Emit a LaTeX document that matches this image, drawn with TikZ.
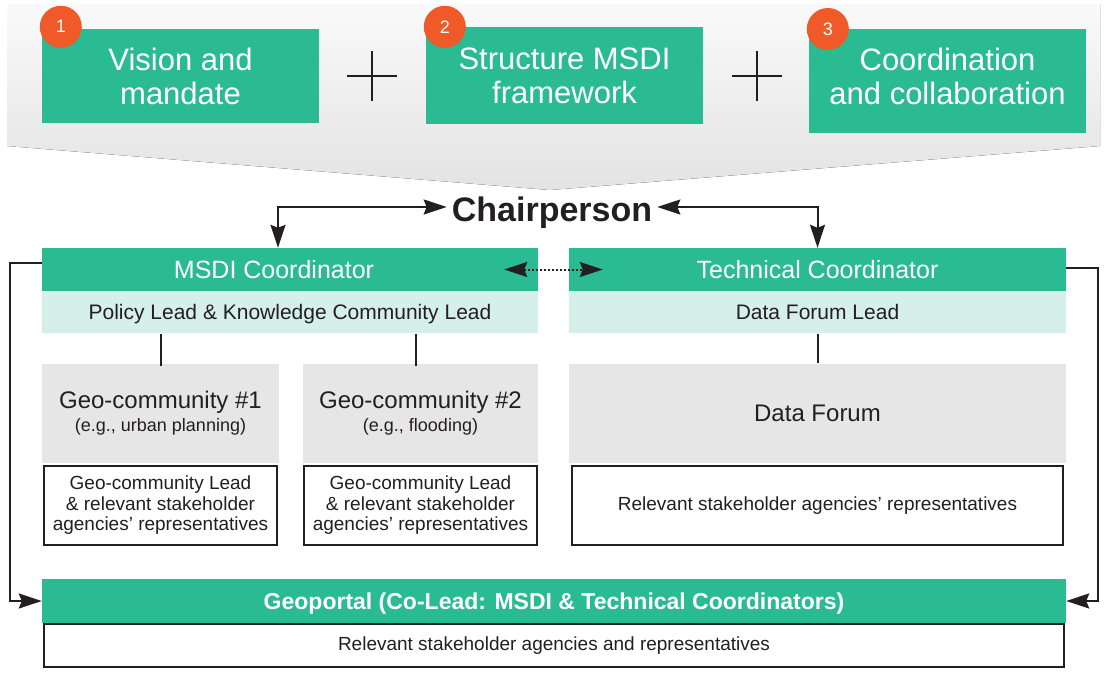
\documentclass[tikz,border=0pt]{standalone}
\usepackage{fontspec}
\setmainfont{Liberation Sans}
\usepackage{tikz}
\usetikzlibrary{positioning,calc,arrows.meta}
\definecolor{msdigreen}{HTML}{2ABB93}
\definecolor{msdilight}{HTML}{D5F0E8}
\definecolor{forumgray}{HTML}{E6E6E6}
\definecolor{badgeorange}{HTML}{F05A28}
\definecolor{inkdark}{HTML}{231F20}
\newcommand{\fsz}[2]{\fontsize{#1}{#2}\selectfont}

\begin{document}
\begin{tikzpicture}[x=1pt, y=-1pt,
        topbox/.style={fill=msdigreen, minimum width=277pt, minimum height=94pt, inner sep=0pt, text=white, align=center, font=\fsz{31}{34}},
        badge/.style={circle, fill=badgeorange, minimum size=42pt, inner sep=0pt, text=white, font=\fsz{18}{18}},
        headbox/.style={fill=msdigreen, minimum height=43pt, inner sep=0pt, text=white, text height=18pt, text depth=0pt, font=\fsz{25}{28}},
        subbox/.style={fill=msdilight, minimum height=42pt, inner sep=0pt, text=inkdark, text height=15pt, text depth=0pt, font=\fsz{21}{24}},
        groupbox/.style={fill=forumgray, minimum height=99pt, inner sep=0pt, text=inkdark, align=center, font=\fsz{24}{23}},
        memberbox/.style={draw=inkdark, line width=2pt, fill=white, minimum height=79pt, inner sep=0pt, text=inkdark, align=center, font=\fsz{19}{20.5}},
        link/.style={draw=inkdark, line width=2pt},
        arrowed/.style={-{Stealth[length=23pt 0 0, width=15pt 0 0, inset=3pt 0 0]}},
        twoway/.style={{Stealth[length=23pt 0 0, width=15pt 0 0, inset=3pt 0 0]}-{Stealth[length=23pt 0 0, width=15pt 0 0, inset=3pt 0 0]}}
    ]
    \useasboundingbox (0,0) rectangle (1107,672);

    % Shaded band behind the three pillars
    \fill[top color=black!2, bottom color=black!11] (7,4) -- (1100,4) -- (1100,146) -- (550,190) -- (7,146) -- cycle;

    % Pillars
    \node[topbox] (vision) at (180.5,76) {Vision and\\mandate};
    \node[topbox, minimum height=97pt] (structure) at (564.5,75.5) {Structure MSDI\\framework};
    \node[topbox, minimum height=104pt, anchor=north] (coordination) at (947.5,29) {};
    \node[text=white, align=center, font=\fsz{31}{34}] (coordinationtext) at (947.5,76) {Coordination\\and collaboration};

    % Numbered badges
    \node[badge] (badgeone) at ($(vision.north west) + (19,-2)$) {1};
    \node[badge] (badgetwo) at ($(structure.north west) + (19,0)$) {2};
    \node[badge] (badgethree) at ($(coordination.north west) + (19,0)$) {3};

    % Plus signs
    \draw[link] (347,76) -- (397,76) (372,51) -- (372,101);
    \draw[link] (732,76) -- (782,76) (757,51) -- (757,101);

    % Chairperson
    \node[font=\bfseries\fsz{34}{34}, text=inkdark, inner xsep=5pt, text height=25pt, text depth=0pt] (chair) at (552,209) {Chairperson};

    % Coordinators
    \node[headbox, minimum width=496pt] (msdi) at (290,269.5) {MSDI Coordinator\hspace*{32pt}};
    \node[subbox, minimum width=496pt, anchor=north] (msdisub) at (msdi.south) {Policy Lead \& Knowledge Community Lead};
    \node[headbox, minimum width=497pt] (tech) at (817.5,269.5) {Technical Coordinator};
    \node[subbox, minimum width=497pt, anchor=north] (techsub) at (tech.south) {Data Forum Lead};

    % Geo-communities
    \node[groupbox, minimum width=237pt] (geoone) at (160.5,413) {Geo-community \#1\\{\fsz{18}{23}(e.g., urban planning)}};
    \node[memberbox, minimum width=233pt, anchor=north] (geoonesub) at (160.5,465) {Geo-community Lead\\\& relevant stakeholder\\agencies’ representatives};
    \node[groupbox, minimum width=235pt] (geotwo) at (420.5,413) {Geo-community \#2\\{\fsz{18}{23}(e.g., flooding)}};
    \node[memberbox, minimum width=233pt, anchor=north] (geotwosub) at (420.5,465) {Geo-community Lead\\\& relevant stakeholder\\agencies’ representatives};

    % Data Forum
    \node[groupbox, minimum width=497pt] (forum) at (817.5,413) {Data Forum};
    \node[memberbox, minimum width=491pt, anchor=north] (forumsub) at (817.5,465) {Relevant stakeholder agencies’ representatives};

    % Geoportal
    \node[headbox, minimum width=1024pt, minimum height=44pt, font=\bfseries\fsz{23}{26}, text height=17pt] (portal) at (554,601) {Geoportal (Co-Lead: MSDI \& Technical Coordinators)};
    \node[memberbox, minimum width=1020pt, minimum height=43pt, anchor=north] (portalsub) at (portal.south) {Relevant stakeholder agencies and representatives};

    % Links to the chairperson
    \draw[link, twoway] ([xshift=-12pt]msdi.north) |- ([yshift=2pt]chair.west);
    \draw[link, twoway] (tech.north) |- ([yshift=2pt]chair.east);
    \draw[link, twoway, dotted] ([xshift=-34pt]msdi.east) -- ([xshift=34pt]tech.west);

    % Coordinators down to their groups
    \coordinate (geoonetop) at (160.5,366);
    \coordinate (geotwotop) at (415.5,366);
    \draw[link] (geoonetop) -- (geoonetop |- msdisub.south);
    \draw[link] (geotwotop) -- (geotwotop |- msdisub.south);
    \draw[link] (forum.north) -- (techsub.south);

    % Both coordinators feed the geoportal
    \draw[link, arrowed] ([yshift=7pt]msdi.west) -- ++(-32,0) |- (portal.west);
    \draw[link, arrowed] ([yshift=2pt]tech.east) -- ++(32,0) |- (portal.east);

\end{tikzpicture}
\end{document}
